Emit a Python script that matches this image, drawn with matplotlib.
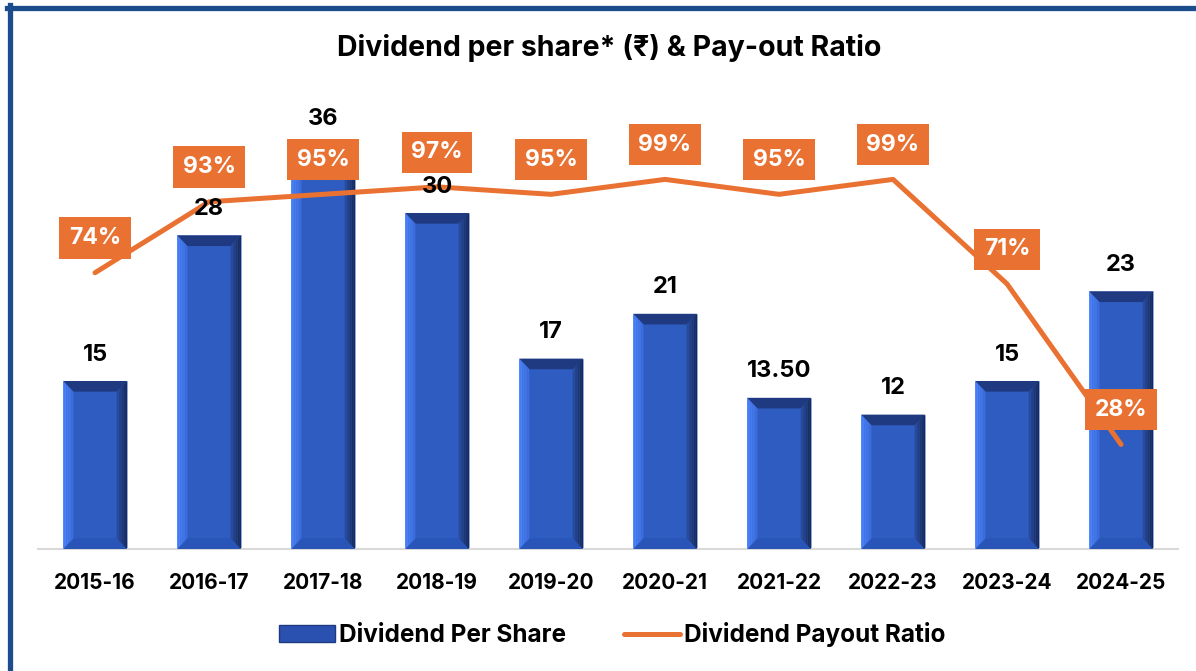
import matplotlib.pyplot as plt
import numpy as np
from matplotlib.patches import Polygon, Patch
from matplotlib.lines import Line2D
from matplotlib.colors import to_rgb

plt.rcParams['font.family'] = ['Inter', 'DejaVu Sans']

years = ['2015-16', '2016-17', '2017-18', '2018-19', '2019-20',
         '2020-21', '2021-22', '2022-23', '2023-24', '2024-25']
dps = [15, 28, 36, 30, 17, 21, 13.5, 12, 15, 23]
dps_labels = ['15', '28', '36', '30', '17', '21', '13.50', '12', '15', '23']
payout = [74, 93, 95, 97, 95, 99, 95, 99, 71, 28]

orange = '#E97132'
blue = '#2F5CC0'


def mix(c1, c2, t):
    a, b = np.array(to_rgb(c1)), np.array(to_rgb(c2))
    return tuple(a + (b - a) * t)


fig = plt.figure(figsize=(11.96, 6.71), dpi=100)
ax = fig.add_axes([0.0318, 0.1818, 0.9532, 0.6677])
x = np.arange(len(years))
w = 0.56
ax.bar(x, dps, width=w, color=blue, edgecolor='#8fa8e0', linewidth=0.6, zorder=2)

# bevel look on the bars
dx, dy = 0.09, 0.95
n = 6
for xi, h in zip(x, dps):
    x0, x1 = xi - w / 2, xi + w / 2
    ax.add_patch(Polygon([(x0, h), (x1, h), (x1 - dx, h - dy), (x0 + dx, h - dy)],
                         facecolor='#1F3A80', edgecolor='none', zorder=3))
    ax.add_patch(Polygon([(x0, 0), (x1, 0), (x1 - dx, dy), (x0 + dx, dy)],
                         facecolor='#2A55B8', edgecolor='none', zorder=3))
    for k in range(n):
        t0, t1 = k / n, (k + 1) / n
        # left face, light at the edge
        ax.add_patch(Polygon([(x0 + t0 * dx, t0 * dy), (x0 + t0 * dx, h - t0 * dy),
                              (x0 + t1 * dx, h - t1 * dy), (x0 + t1 * dx, t1 * dy)],
                             facecolor=mix('#4C84FC', '#3A6AD8', t0), edgecolor='none', zorder=3))
        # right face, dark at the edge
        ax.add_patch(Polygon([(x1 - t0 * dx, t0 * dy), (x1 - t0 * dx, h - t0 * dy),
                              (x1 - t1 * dx, h - t1 * dy), (x1 - t1 * dx, t1 * dy)],
                             facecolor=mix('#172955', '#2B50A8', t0), edgecolor='none', zorder=3))

ax.set_xlim(-0.5, len(years) - 0.5)
ax.set_ylim(0, 40)
ax.set_xticks(x)
ax.set_xticklabels(years, fontsize=15, fontweight='bold')
ax.tick_params(axis='x', length=0, pad=17)
ax.set_yticks([])
for s in ['top', 'left', 'right']:
    ax.spines[s].set_visible(False)
ax.spines['bottom'].set_color('#d9d9d9')
ax.spines['bottom'].set_linewidth(1.5)

ax2 = ax.twinx()
ax2.plot(x, [p / 100 for p in payout], color=orange, lw=3.6, solid_capstyle='round',
         solid_joinstyle='round', zorder=4)
# bar value labels sit on top of the line
for xi, h in zip(x, dps):
    ax2.annotate(dps_labels[xi], (xi, h), xycoords=ax.transData, xytext=(0, 19),
                 textcoords='offset points', ha='center', va='center', fontsize=17,
                 fontweight='bold', color='black', zorder=5)
for xi, p in zip(x, payout):
    ax2.annotate(f'{p}%', (xi, p / 100), xytext=(0, 25), textcoords='offset points',
                 ha='center', va='center', fontsize=16.5, fontweight='bold', color='white',
                 bbox=dict(boxstyle='square,pad=0.42', fc=orange, ec='none'), zorder=6)
ax2.set_ylim(0, 1.2)
ax2.set_yticks([])
for s in ax2.spines.values():
    s.set_visible(False)

fig.text(0.509, 0.928, 'Dividend per share* (₹) & Pay-out Ratio', ha='center', va='center',
         fontsize=20.5, fontweight='bold')

handles = [Patch(facecolor='#2A50B0', edgecolor='#1F3A80'),
           Line2D([0], [0], color=orange, lw=3.6, solid_capstyle='round')]
fig.legend(handles, ['Dividend Per Share', 'Dividend Payout Ratio'], loc='center',
           bbox_to_anchor=(0.512, 0.054), ncol=2, frameon=False,
           prop={'size': 17.5, 'weight': 'bold'}, handlelength=2.3, handletextpad=0.15,
           columnspacing=2.4)

# frame on the top and left edges
fig.add_artist(Line2D([9.5 / 1196, 9.5 / 1196], [0, 1 - 5 / 671], color='#1B4C8C',
                      lw=3.8, transform=fig.transFigure))
fig.add_artist(Line2D([7 / 1196, 1], [1 - 7.5 / 671, 1 - 7.5 / 671], color='#1B4C8C',
                      lw=3.8, transform=fig.transFigure))

fig.savefig('out.png', dpi=100)
